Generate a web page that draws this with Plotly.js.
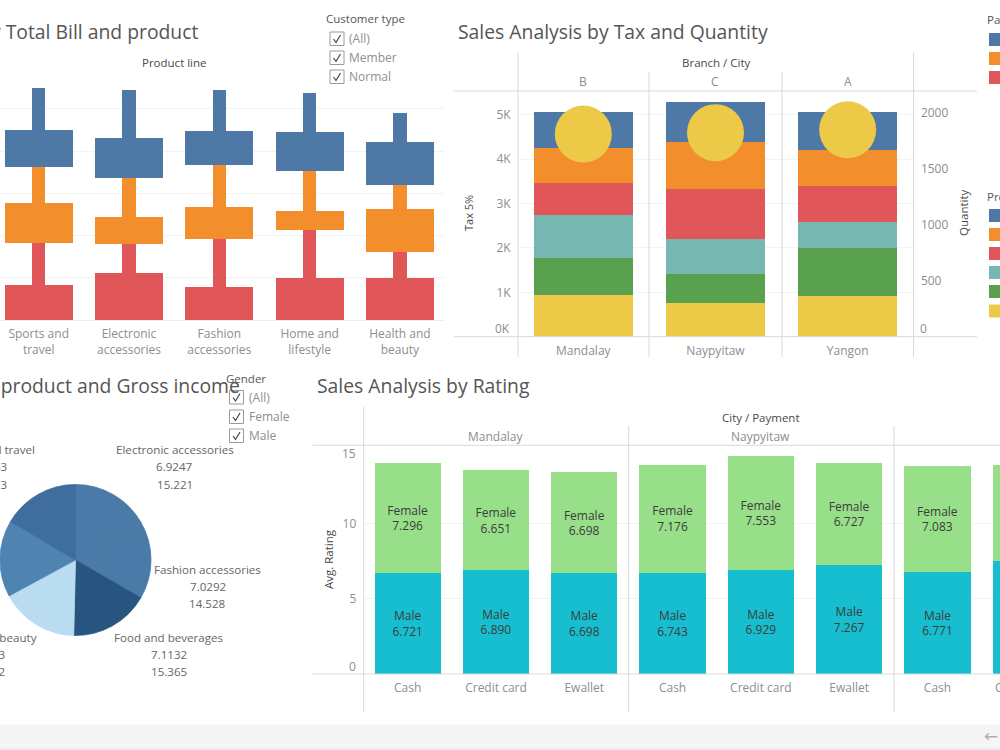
<!DOCTYPE html>
<html><head><meta charset="utf-8">
<script src="https://cdn.plot.ly/plotly-3.0.1.min.js"></script>
<style>html,body{margin:0;padding:0;background:#fff;overflow:hidden}#c{width:1000px;height:750px}</style>
</head><body><div id="c"></div>
<script>
// ---- Total Bill by product line (K) ----
const products = ['Sports and<br>travel','Electronic<br>accessories','Fashion<br>accessories','Home and<br>lifestyle','Health and<br>beauty'];
const redWide    = [8.29,11.22,7.90,9.87,9.87];
const redThin    = [10.03,6.87,11.30,11.37,6.16];
const orangeWide = [9.32,6.32,7.66,4.50,10.19];
const orangeThin = [8.69,9.16,9.87,9.56,5.69];
const blueWide   = [8.69,9.48,8.06,9.32,10.19];
const blueThin   = [10.03,11.37,9.64,9.24,7.03];
// ---- Tax and Quantity ----
const cities = ['Mandalay','Naypyitaw','Yangon'];
const branches = ['B','C','A'];
const taxYellow = [940,752,925];
const taxGreen  = [842,662,1068];
const taxTeal   = [955,782,594];
const taxRed    = [729,1135,812];
const taxOrange = [782,1045,812];
const taxBlue   = [820,910,857];
const quantity  = [1810,1822,1848];
const taxTicks = [1000,2000,3000,4000,5000];
const taxTickText = ['1K','2K','3K','4K','5K'];
const qtyTicks = [500,1000,1500,2000];
// ---- Pie ----
const pieNames = ['Electronic accessories','Fashion accessories','Food and beverages','Health and beauty','Home and lifestyle','Sports and travel'];
const pieRating = [6.9247,7.0292,7.1132,7.0033,6.8375,6.9163];
const pieIncome = ['15.221','14.528','15.365','15.412','16.030','15.813'];
const pieColors = ['#4a7aa8','#4a7aa8','#27557f','#b9dcf1','#4f84b2','#3e6d9e'];
// ---- Rating ----
const payments = ['Cash','Credit card','Ewallet','Cash','Credit card','Ewallet','Cash','Credit card'];
const ratingMale   = [6.721,6.890,6.698,6.743,6.929,7.267,6.771,7.5];
const ratingFemale = [7.296,6.651,6.698,7.176,7.553,6.727,7.083,6.4];
const ratingCities = ['Mandalay','Naypyitaw'];

const FONT='"Open Sans", sans-serif';
const BLUE='#4e79a7',ORANGE='#f28e2b',RED='#e15759',TEAL='#76b7b2',GREEN='#59a14f',YELLOW='#edc948';
const GRID='#f3f3f3', LINE='#d9d9d9', TICK='#8e8e8e', DARK='#4a4a4a';
const px=x=>x/1000, py=y=>1-y/750;

const traces=[];
const idx1=products.map((_,i)=>i), idx2=cities.map((_,i)=>i), idx3=payments.map((_,i)=>i);
[[redWide,RED,.753],[redThin,RED,.147],[orangeWide,ORANGE,.753],[orangeThin,ORANGE,.147],[blueWide,BLUE,.753],[blueThin,BLUE,.147]].forEach(([v,c,w])=>{
  traces.push({type:'bar',x:idx1,y:v,width:w,marker:{color:c,line:{width:0}},xaxis:'x',yaxis:'y',hoverinfo:'y'});
});
[[taxYellow,YELLOW],[taxGreen,GREEN],[taxTeal,TEAL],[taxRed,RED],[taxOrange,ORANGE],[taxBlue,BLUE]].forEach(([v,c])=>{
  traces.push({type:'bar',x:idx2,y:v,width:.753,marker:{color:c,line:{width:0}},xaxis:'x2',yaxis:'y2',hoverinfo:'y'});
});
traces.push({type:'scatter',mode:'markers',x:idx2,y:quantity,marker:{color:YELLOW,size:57,line:{width:0}},xaxis:'x2',yaxis:'y3',hoverinfo:'y',cliponaxis:false});
[[ratingMale,'Male','#17becf'],[ratingFemale,'Female','#98df8a']].forEach(([v,n,c])=>{
  traces.push({type:'bar',x:idx3,y:v,width:.75,marker:{color:c,line:{width:0}},xaxis:'x3',yaxis:'y4',
    text:v.map((a,i)=>i<7?n+'<br>'+a.toFixed(3):''),textposition:'inside',insidetextanchor:'middle',textangle:0,
    insidetextfont:{family:FONT,size:12,color:'#3c3c3c'},constraintext:'none',cliponaxis:true,hoverinfo:'y'});
});
traces.push({type:'pie',values:pieRating,labels:pieNames,sort:false,direction:'clockwise',rotation:0,textinfo:'none',
  marker:{colors:pieColors,line:{width:.8,color:pieColors}},domain:{x:[0,.151],y:[py(636),py(484)]},hoverinfo:'label+value'});

const ann=[], shapes=[];
function T(x,y,t,o={}){ann.push(Object.assign({xref:'paper',yref:'paper',x:px(x),y:py(y),text:t,showarrow:false,xanchor:'center',yanchor:'middle',borderpad:0,borderwidth:0,
  font:{family:FONT,size:o.size||12,color:o.color||TICK}},o.a||{}));}
function L(x0,y0,x1,y1,c=LINE,w=1){shapes.push({type:'line',xref:'paper',yref:'paper',x0:px(x0),y0:py(y0),x1:px(x1),y1:py(y1),line:{color:c,width:w}});}
function Box(x0,y0,x1,y1,c,lc){shapes.push({type:'rect',xref:'paper',yref:'paper',x0:px(x0),y0:py(y0),x1:px(x1),y1:py(y1),fillcolor:c,line:lc?{color:lc,width:1}:{width:0}});}
function checks(title,tx,ty,bx,ys,lx,labels){
  T(tx,ty,title,{color:'#555',size:11.5,a:{xanchor:'left'}});
  labels.forEach((n,i)=>{
    const y=ys[i];
    Box(bx,y,bx+14,y+13.5,'#fff','#9a9a9a');
    const p=[[bx+3.5,y+7],[bx+6,y+10.5],[bx+10.5,y+3]].map((q,k)=>(k?'L':'M')+px(q[0])+','+py(q[1])).join(' ');
    shapes.push({type:'path',xref:'paper',yref:'paper',path:p,line:{color:'#444',width:1.2}});
    T(lx,y+6.5,n,{color:TICK,size:12,a:{xanchor:'left'}});
  });
}
// titles
const TS=19.35;
T(198,31,'Sales Analysis by Total Bill and product',{size:TS,color:'#555',a:{xanchor:'right'}});
T(458,31,'Sales Analysis by Tax and Quantity',{size:TS,color:'#555',a:{xanchor:'left'}});
T(239.5,385,'Sales Analysis by product and Gross income',{size:TS,color:'#555',a:{xanchor:'right'}});
T(317,385,'Sales Analysis by Rating',{size:TS,color:'#555',a:{xanchor:'left'}});
// header labels
T(174,63,'Product line',{size:11.5,color:DARK});
T(716,63,'Branch / City',{size:11.5,color:DARK});
T(761,417.5,'City / Payment',{size:11.5,color:DARK});
branches.forEach((b,i)=>ann.push({xref:'x2',yref:'paper',x:i,y:py(82),yanchor:'middle',text:b,showarrow:false,font:{family:FONT,size:12,color:TICK}}));
ratingCities.forEach((c,i)=>ann.push({xref:'x3',yref:'paper',x:1+3*i,y:py(436.5),yanchor:'middle',text:c,showarrow:false,font:{family:FONT,size:12,color:TICK}}));
T(1026,687,payments[7],{});
// axis end labels shifted inside the panes, as Tableau does
ann.push({xref:'paper',yref:'y2',x:px(511),y:0,yshift:8,text:'0K',xanchor:'right',showarrow:false,borderpad:0,font:{family:FONT,size:12,color:TICK}});
ann.push({xref:'paper',yref:'y3',x:px(919),y:0,yshift:8,text:'0',xanchor:'left',showarrow:false,borderpad:0,font:{family:FONT,size:12,color:TICK}});
ann.push({xref:'paper',yref:'y4',x:px(357),y:0,yshift:8,text:'0',xanchor:'right',showarrow:false,borderpad:0,font:{family:FONT,size:12,color:TICK}});
ann.push({xref:'paper',yref:'y4',x:px(357),y:15,yshift:-5,text:'15',xanchor:'right',showarrow:false,borderpad:0,font:{family:FONT,size:12,color:TICK}});
// axis titles
T(468,213,'Tax 5%',{size:11,color:DARK,a:{textangle:-90}});
T(963,213,'Quantity',{size:11.5,color:DARK,a:{textangle:-90}});
T(328,559,'Avg. Rating',{size:11.5,color:DARK,a:{textangle:-90}});
// pie labels
const pieLabelAt=[[174.5,449.5],[207.5,569],[168.5,637],[-13,637],null,[-11,449.5]];
pieNames.forEach((n,i)=>{const p=pieLabelAt[i]; if(!p)return;
  T(p[0],p[1],n,{color:'#666',size:11.6});
  T(p[0],p[1]+17.3,pieRating[i].toFixed(4),{color:'#666',size:11.6});
  T(p[0],p[1]+34.6,pieIncome[i],{color:'#666',size:11.6});
});
// filter boxes
checks('Customer type',326,19,330,[32,51,70],349,['(All)','Member','Normal']);
checks('Gender',226,378,229.5,[390.5,410,429],249,['(All)','Female','Male']);
// clipped legends at right
T(987,20,'Payment',{size:11.5,color:'#555',a:{xanchor:'left'}});
T(987,197,'Product line',{size:11.5,color:'#555',a:{xanchor:'left'}});
[[33,BLUE],[52,ORANGE],[71,RED]].forEach(([y,c])=>Box(989,y,1001,y+13,c));
[[209,BLUE],[228,ORANGE],[247,RED],[266,TEAL],[285,GREEN],[304.5,YELLOW]].forEach(([y,c])=>Box(989,y,1001,y+13,c));
// pane rules, chart 2
L(453.5,91,977,91); L(453.5,336.7,977,336.7);
L(518,52.5,518,357); L(913.5,52.5,913.5,357);
L(649,72,649,357); L(782,72,782,357);
// pane rules, chart 4
L(312.5,445.3,1000,445.3); L(312.5,674,1000,674);
L(363.7,407,363.7,712); L(628.7,426,628.7,712); L(894,426,894,712);
// footer
Box(0,724.5,1000,748.5,'#f5f5f5');
L(0,749,1000,749,'#dcdcdc');
T(991,735.5,'←',{size:17,color:'#b9b9b9',a:{font:{family:'"DejaVu Sans"',size:17,color:'#b0b0b0'}}});

const noTicks={ticks:'',showticklabels:false,zeroline:false};
const tickFont={family:FONT,size:12,color:TICK};
const layout={
  width:1000,height:750,margin:{l:0,r:0,t:0,b:0},paper_bgcolor:'#fff',plot_bgcolor:'rgba(0,0,0,0)',
  barmode:'stack',showlegend:false,font:{family:FONT},bargap:0,
  xaxis:{domain:[0,.445],range:[-.4286,4.499],tickvals:idx1,ticktext:products,tickfont:tickFont,ticks:'outside',ticklen:3,tickcolor:'rgba(0,0,0,0)',
    showgrid:false,zeroline:false,showline:true,linecolor:'#eeeeee',tickangle:0},
  yaxis:Object.assign({domain:[py(320),py(80)],range:[0,56.87],tickvals:[10,20,30,40,50],showgrid:true,gridcolor:GRID},noTicks),
  xaxis2:{domain:[px(518),px(913.5)],range:[-.494,2.498],tickvals:idx2,ticktext:cities,tickfont:tickFont,ticks:'outside',ticklen:3,tickcolor:'rgba(0,0,0,0)',
    showgrid:false,zeroline:false,anchor:'y2'},
  yaxis2:{domain:[py(336.7),py(91)],range:[0,5534],tickvals:taxTicks,ticktext:taxTickText,tickfont:tickFont,ticks:'outside',ticklen:4,tickcolor:'rgba(0,0,0,0)',
    showgrid:true,gridcolor:GRID,zeroline:false,anchor:'x2'},
  yaxis3:{domain:[py(336.7),py(91)],range:[0,2194],tickvals:qtyTicks,tickfont:tickFont,ticks:'outside',ticklen:4,tickcolor:'rgba(0,0,0,0)',
    showgrid:false,zeroline:false,overlaying:'y2',side:'right',anchor:'x2'},
  xaxis3:{domain:[px(363.7),1],range:[-.498,6.708],tickvals:idx3,ticktext:payments,tickfont:tickFont,ticks:'outside',ticklen:3,tickcolor:'rgba(0,0,0,0)',
    showgrid:false,zeroline:false,anchor:'y4'},
  yaxis4:{domain:[py(674),py(445.3)],range:[0,15.2],tickvals:[5,10],tickfont:tickFont,ticks:'outside',ticklen:4,tickcolor:'rgba(0,0,0,0)',
    showgrid:true,gridcolor:GRID,zeroline:false,anchor:'x3'},
  annotations:ann,shapes:shapes
};
Plotly.newPlot('c',traces,layout,{staticPlot:true,displayModeBar:false});
</script></body></html>
